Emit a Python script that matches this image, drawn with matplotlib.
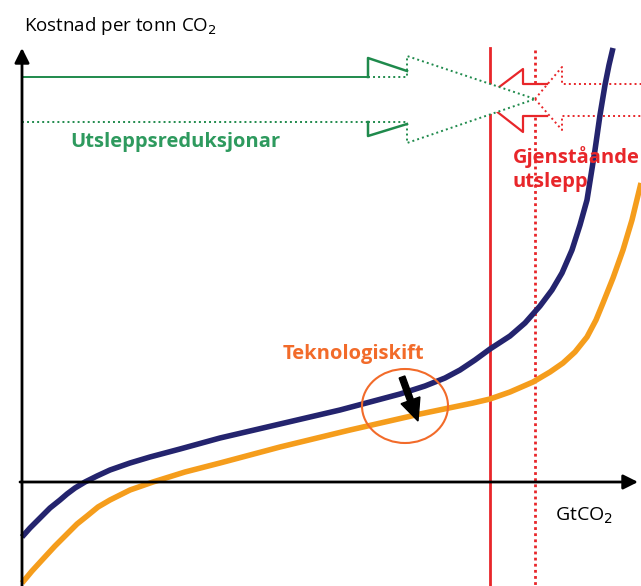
import matplotlib
matplotlib.use('Agg')
import matplotlib.pyplot as plt
from matplotlib.patches import Ellipse, Polygon

plt.rcParams['font.family'] = ['Open Sans', 'DejaVu Sans']

# kurver (pikselkoordinatar lest av biletet, y nedover)
navy_x = [22, 30, 40, 50, 60, 67, 75, 85, 97, 110, 130, 150, 180, 220, 280, 340, 400, 425,
          445, 460, 475, 490, 510, 525, 540, 552, 562, 572, 580, 587, 591, 595, 600, 605, 609, 613]
navy_y = [537, 528, 518, 508, 500, 494, 488, 482, 476, 470, 463, 457, 449, 438, 424, 410, 394, 386,
          378, 370, 360, 349, 336, 323, 306, 290, 273, 250, 225, 200, 175, 150, 115, 85, 65, 48]
orng_x = [22, 32, 43, 55, 67, 77, 87, 98, 110, 130, 153, 185, 220, 280, 350, 420, 473, 490,
          510, 533, 550, 563, 575, 587, 596, 603, 613, 623, 632, 641]
orng_y = [583, 571, 559, 546, 534, 524, 516, 507, 500, 490, 482, 472, 463, 447, 430, 414, 403, 399,
          392, 382, 372, 363, 352, 337, 320, 303, 278, 250, 220, 183]

fig = plt.figure(figsize=(6.41, 5.86), dpi=100)
ax = fig.add_axes([0, 0, 1, 1])
ax.set_xlim(0, 641)
ax.set_ylim(586, 0)
ax.axis('off')

green = '#1f8a4c'
red = '#e8262a'
dot = (0, (1, 1.6))

# raude vertikale linjer
ax.plot([490, 490], [48, 586], color=red, lw=2, zorder=2)
ax.plot([535, 535], [50, 586], color=red, lw=2, ls=(0, (1, 1.2)), zorder=2)

# raud pil (heiltrukken, kvit fyll)
red_solid = Polygon([(482, 100), (523, 69), (523, 84), (547, 84), (547, 116),
                     (523, 116), (523, 132)], closed=True, facecolor='white',
                    edgecolor='none', zorder=3)
ax.add_patch(red_solid)
ax.plot([482, 523, 523, 547], [100, 69, 84, 84], color=red, lw=1.6, zorder=3)
ax.plot([482, 523, 523, 547], [100, 132, 116, 116], color=red, lw=1.6, zorder=3)
# raud pil (prikka)
ax.plot([535, 562, 562, 641], [99, 67, 84, 84], color=red, lw=1.4, ls=dot, zorder=3)
ax.plot([535, 562, 562, 641], [99, 130, 116, 116], color=red, lw=1.4, ls=dot, zorder=3)

# grøn pil
green_fill = Polygon([(368, 77), (407, 77), (407, 56), (535, 99), (407, 143),
                      (407, 122), (368, 122)], closed=True, facecolor='white',
                     edgecolor='none', zorder=4)
ax.add_patch(green_fill)
ax.plot([22, 368], [77, 77], color=green, lw=1.4, zorder=5)
ax.plot([22, 368], [122, 122], color=green, lw=1.4, ls=dot, zorder=5)
ax.plot([368, 368, 407], [77, 58, 71], color=green, lw=1.8, zorder=5)
ax.plot([368, 368, 407], [122, 136, 124], color=green, lw=1.8, zorder=5)
ax.plot([368, 407, 407, 535], [77, 77, 56, 99], color=green, lw=1.4, ls=dot, zorder=5)
ax.plot([368, 407, 407, 535], [122, 122, 143, 99], color=green, lw=1.4, ls=dot, zorder=5)

# kurver
ax.plot(navy_x, navy_y, color='#24246e', lw=4, solid_capstyle='butt',
        solid_joinstyle='round', zorder=6)
ax.plot(orng_x, orng_y, color='#f59d1c', lw=4, solid_capstyle='butt',
        solid_joinstyle='round', zorder=6)

# aksar
ax.annotate('', xy=(22, 48), xytext=(22, 588),
            arrowprops=dict(arrowstyle='-|>', lw=2, color='black', mutation_scale=22,
                            shrinkA=0, shrinkB=0), zorder=7)
ax.annotate('', xy=(638, 482), xytext=(20, 482),
            arrowprops=dict(arrowstyle='-|>', lw=2, color='black', mutation_scale=22,
                            shrinkA=0, shrinkB=0), zorder=7)

# teknologiskift
ax.add_patch(Ellipse((405, 406), 86, 74, fill=False, edgecolor='#f26b2a', lw=1.5, zorder=8))
ax.arrow(402, 377, 16, 44, width=6, head_width=20, head_length=22,
         length_includes_head=True, color='black', zorder=9)

# tekst
ax.text(24, 26, 'Kostnad per tonn CO$_2$', fontsize=13.5, va='center', ha='left')
ax.text(555, 516, 'GtCO$_2$', fontsize=14, va='center', ha='left')
ax.text(70, 142, 'Utsleppsreduksjonar', fontsize=14.5, fontweight='bold',
        color='#2e9a5e', va='center', ha='left')
ax.text(513, 169, 'Gjenståande\nutslepp', fontsize=14.5, fontweight='bold',
        color=red, va='center', ha='left', linespacing=1.3, zorder=10)
ax.text(283, 354, 'Teknologiskift', fontsize=14.5, fontweight='bold',
        color='#f26b2a', va='center', ha='left')

fig.savefig('out.png', dpi=100)
